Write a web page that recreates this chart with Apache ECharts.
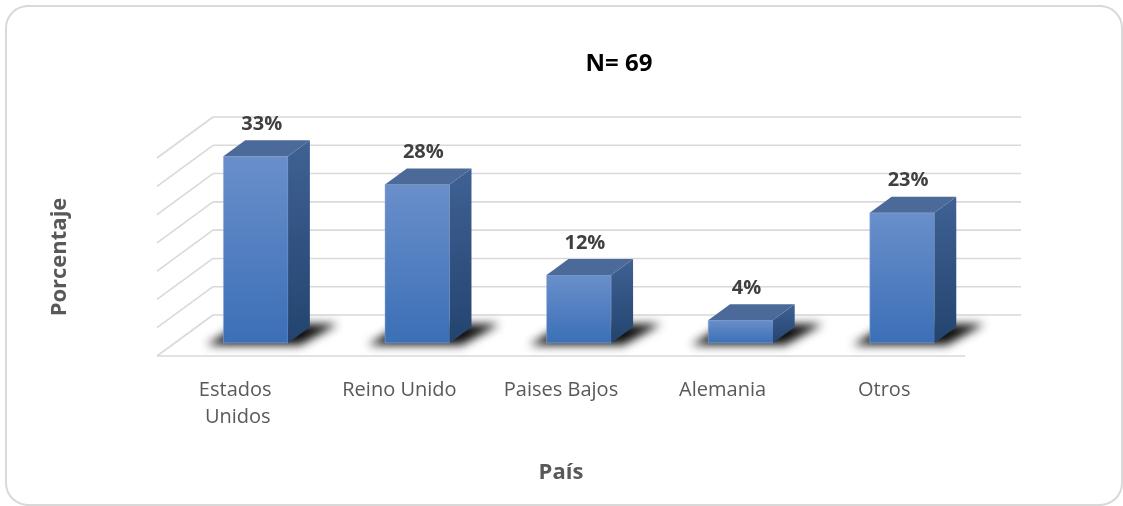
<!DOCTYPE html>
<html>
<head>
<meta charset="utf-8">
<script src="https://cdn.jsdelivr.net/npm/echarts@6/dist/echarts.min.js"></script>
<style>
  html, body { margin: 0; padding: 0; background: #ffffff; }
  #chart { width: 1123px; height: 506px; }
</style>
</head>
<body>
<div id="chart"></div>
<script>
// Share of respondents by country (N = 69)
const categories = ['Estados Unidos', 'Reino Unido', 'Paises Bajos', 'Alemania', 'Otros'];
const percentages = [33, 28, 12, 4, 23];
const yTicks = [0, 5, 10, 15, 20, 25, 30, 35];

// Oblique projection of the 3D box: offset of the back wall from the front plane
const DEPTH_X = 56;
const DEPTH_Y = -41;
// bars sit between these depth fractions
const BAR_FRONT = 0.32;
const BAR_DEPTH = 0.39;

const FONT = '"Open Sans", "DejaVu Sans", sans-serif';
const GRID_COLOR = '#d9d9d9';

const chart = echarts.init(document.getElementById('chart'), null, { renderer: 'canvas' });

function renderGrid(params, api) {
  const v = api.value(0);
  const cs = params.coordSys;
  const y = api.coord([0, v])[1];
  const left = cs.x, right = cs.x + cs.width;
  const lineStyle = { stroke: GRID_COLOR, lineWidth: 1.6, fill: null };
  const children = [
    { type: 'line', shape: { x1: left + DEPTH_X, y1: y + DEPTH_Y, x2: right + DEPTH_X, y2: y + DEPTH_Y }, style: lineStyle },
    { type: 'line', shape: { x1: left, y1: y, x2: left + DEPTH_X, y2: y + DEPTH_Y }, style: lineStyle }
  ];
  if (v === 0) {
    children.push({ type: 'line', shape: { x1: left, y1: y, x2: right, y2: y }, style: lineStyle });
  }
  return { type: 'group', children };
}

function renderBar(params, api) {
  const i = api.value(0);
  const v = api.value(1);
  const base = api.coord([i, 0]);
  const top = api.coord([i, v]);
  const band = api.size([1, 0])[0];
  const w = band * 0.4;
  const ox = DEPTH_X * BAR_FRONT, oy = DEPTH_Y * BAR_FRONT;
  const dx = DEPTH_X * BAR_DEPTH, dy = DEPTH_Y * BAR_DEPTH;
  const x0 = base[0] - w / 2 + ox;
  const x1 = x0 + w;
  const yb = base[1] + oy;
  const yt = top[1] + oy;
  const far = 3000; // shadow caster is drawn off-canvas, only its blur shows

  return {
    type: 'group',
    children: [
      {
        type: 'polygon',
        shape: { points: [
          [x0 - 17 - far, yb + 2], [x1 + 12 - far, yb + 2],
          [x1 + dx + 28 - far, yb + dy - 3], [x0 + dx - 4 - far, yb + dy - 3]
        ] },
        style: { fill: '#000', shadowBlur: 10, shadowColor: 'rgba(0,0,0,0.95)', shadowOffsetX: far, shadowOffsetY: 0 }
      },
      {
        type: 'rect',
        shape: { x: x0, y: yt, width: w, height: yb - yt },
        style: {
          fill: new echarts.graphic.LinearGradient(0, 0, 0, 1, [
            { offset: 0, color: '#6a8fcb' },
            { offset: 1, color: '#3b6fb6' }
          ]),
          stroke: 'rgba(150,180,225,0.6)', lineWidth: 0.8
        }
      },
      {
        type: 'polygon',
        shape: { points: [[x1, yt], [x1 + dx, yt + dy], [x1 + dx, yb + dy], [x1, yb]] },
        style: {
          fill: new echarts.graphic.LinearGradient(0, 0, 0, 1, [
            { offset: 0, color: '#3f6194' },
            { offset: 1, color: '#24446f' }
          ])
        }
      },
      {
        type: 'polygon',
        shape: { points: [[x0, yt], [x1, yt], [x1 + dx, yt + dy], [x0 + dx, yt + dy]] },
        style: { fill: '#4c6a99' }
      },
      {
        type: 'text',
        style: {
          text: v + '%',
          x: base[0] + ox + 6,
          y: yt + dy - 16,
          align: 'center',
          verticalAlign: 'middle',
          font: 'bold 20px ' + FONT,
          fill: '#404040'
        }
      }
    ]
  };
}

const option = {
  backgroundColor: '#ffffff',
  animation: false,
  title: {
    text: 'N= 69',
    left: 614,
    textAlign: 'center',
    top: 47,
    textStyle: { fontFamily: FONT, fontWeight: 'bold', fontSize: 24, color: '#000000' }
  },
  graphic: [
    {
      type: 'rect',
      shape: { x: 6, y: 6, width: 1116, height: 499, r: 22 },
      style: { fill: null, stroke: '#d9d9d9', lineWidth: 2 },
      z: -10
    }
  ],
  grid: { left: 157, right: 158, top: 158, bottom: 150 },
  xAxis: {
    type: 'category',
    data: categories,
    axisLine: { show: false },
    axisTick: { show: false },
    splitLine: { show: false },
    axisLabel: {
      interval: 0,
      margin: 21,
      width: 125,
      overflow: 'break',
      lineHeight: 27,
      fontFamily: FONT,
      fontSize: 20,
      color: '#595959'
    },
    name: 'País',
    nameLocation: 'middle',
    nameGap: 106,
    nameTextStyle: { fontFamily: FONT, fontWeight: 'bold', fontSize: 22, color: '#595959' }
  },
  yAxis: {
    type: 'value',
    min: 0,
    max: 35,
    interval: 5,
    axisLine: { show: false },
    axisTick: { show: false },
    axisLabel: { show: false },
    splitLine: { show: false },
    name: 'Porcentaje',
    nameLocation: 'middle',
    nameGap: 86,
    nameTextStyle: { fontFamily: FONT, fontWeight: 'bold', fontSize: 22, color: '#595959' }
  },
  series: [
    {
      type: 'custom',
      name: 'grid',
      renderItem: renderGrid,
      data: yTicks.map(t => [t]),
      encode: { y: 0 },
      silent: true,
      z: 1
    },
    {
      type: 'custom',
      name: 'Porcentaje',
      renderItem: renderBar,
      data: percentages.map((p, i) => [i, p]),
      encode: { x: 0, y: 1 },
      z: 2
    }
  ]
};

chart.setOption(option);
</script>
</body>
</html>
